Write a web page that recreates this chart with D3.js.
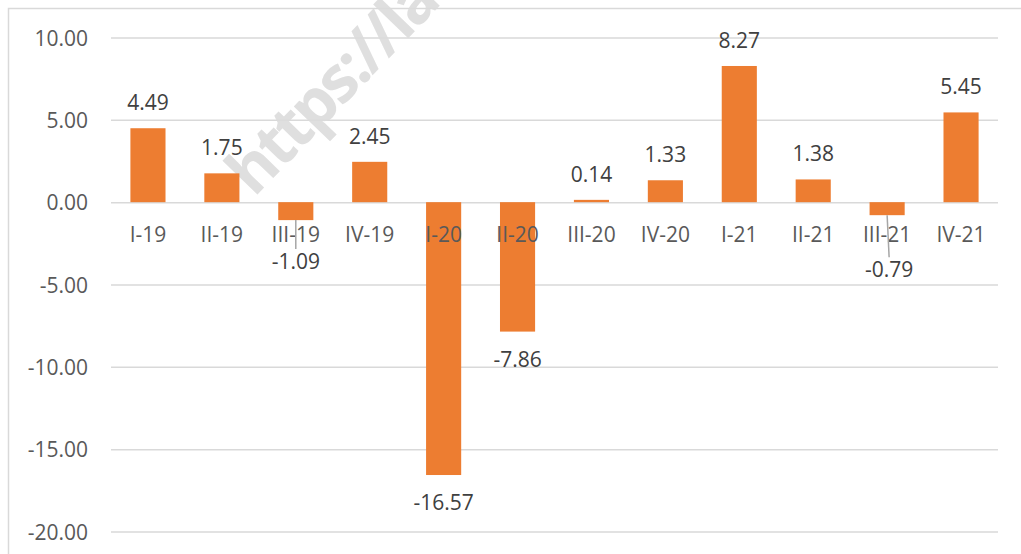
<!doctype html>
<html lang="en">
<head>
  <meta charset="utf-8">
  <title>Quarterly growth</title>
  <script src="https://cdnjs.cloudflare.com/ajax/libs/d3/7.8.5/d3.min.js"></script>
  <style>
    body { margin: 0; overflow: hidden; background: #fff; }
    text { font-family: "Open Sans", "Liberation Sans", sans-serif; fill: #595959; }
  </style>
</head>
<body>
  <script type="text/javascript">

    // chart data
    const quarters = ["I-19", "II-19", "III-19", "IV-19", "I-20", "II-20", "III-20", "IV-20", "I-21", "II-21", "III-21", "IV-21"];
    const growth = [4.49, 1.75, -1.09, 2.45, -16.57, -7.86, 0.14, 1.33, 8.27, 1.38, -0.79, 5.45];
    const yTicks = [10, 5, 0, -5, -10, -15, -20];

    // labels that were dragged off the bar in the original, with a leader line
    const movedLabels = { "III-19": { dy: 49, dx: 0 }, "III-21": { dy: 62, dx: 2 } };

    var config = {
      "width": 1021,
      "height": 554,
      "left": 111,
      "right": 998,
      "top": 37.5,
      "bottom": 531.5
    };

    // plain hyphen for negatives, like the original
    const fmt = d3.formatLocale({ decimal: ".", thousands: ",", grouping: [3], currency: ["", ""], minus: "-" }).format(".2f");

    let svg = d3.select("body").append("svg")
      .attr("width", config.width)
      .attr("height", config.height);

    // frame of the chart area
    svg.append("rect")
      .attr("x", 8.5).attr("y", 8.5)
      .attr("width", config.width + 20).attr("height", config.height + 20)
      .attr("fill", "none")
      .attr("stroke", "#d9d9d9")
      .attr("stroke-width", 1.5);

    let xScale = d3.scaleBand()
      .domain(quarters)
      .range([config.left, config.right])
      .paddingInner(0.525)
      .paddingOuter(0.2625);

    let yScale = d3.scaleLinear()
      .domain([10, -20])
      .range([config.top, config.bottom]);

    // gridlines + y labels
    let yAxis = svg.append("g")
      .call(d3.axisLeft(yScale)
        .tickValues(yTicks)
        .tickSize(config.left - config.right)
        .tickPadding(23)
        .tickFormat(fmt))
      .attr("transform", "translate(" + config.left + ",0)");
    yAxis.select(".domain").remove();
    yAxis.selectAll(".tick line")
      .attr("stroke", "#d9d9d9")
      .attr("stroke-width", 1.5)
      .attr("x1", 0).attr("x2", config.right - config.left);
    yAxis.selectAll(".tick text")
      .attr("dy", "7.5")
      .style("font-size", "21px")
      .style("font-family", "'Open Sans', sans-serif")
      .attr("fill", "#595959");

    // watermark
    svg.append("text")
      .attr("transform", "translate(254,198) rotate(-46)")
      .style("font-size", "64px")
      .style("font-weight", "bold")
      .style("letter-spacing", "-3px")
      .style("fill", "#dcdcdc")
      .style("opacity", 0.9)
      .text("https://la");

    // bars
    svg.selectAll(".bar")
      .data(quarters)
      .enter().append("rect")
      .attr("class", "bar")
      .attr("x", d => xScale(d))
      .attr("width", xScale.bandwidth())
      .attr("y", (d, i) => yScale(Math.max(0, growth[i])))
      .attr("height", (d, i) => Math.abs(yScale(growth[i]) - yScale(0)))
      .attr("fill", "#ed7d31");

    // category labels sit just under the zero line
    svg.selectAll(".cat")
      .data(quarters)
      .enter().append("text")
      .attr("class", "cat")
      .attr("x", d => xScale(d) + xScale.bandwidth() / 2)
      .attr("y", yScale(0) + 40)
      .attr("text-anchor", "middle")
      .style("font-size", "21px")
      .text(d => d);

    // leader lines for moved labels
    quarters.forEach((q, i) => {
      let m = movedLabels[q];
      if (!m) return;
      let cx = xScale(q) + xScale.bandwidth() / 2;
      let y0 = yScale(growth[i]);
      svg.append("line")
        .attr("x1", cx).attr("y1", y0)
        .attr("x2", cx + m.dx).attr("y2", y0 + m.dy - 20)
        .attr("stroke", "#a6a6a6")
        .attr("stroke-width", 1.5);
    });

    // value labels
    svg.selectAll(".val")
      .data(quarters)
      .enter().append("text")
      .attr("class", "val")
      .attr("x", d => xScale(d) + xScale.bandwidth() / 2 + (movedLabels[d] ? movedLabels[d].dx : 0))
      .attr("y", (d, i) => {
        let v = growth[i];
        if (movedLabels[d]) return yScale(v) + movedLabels[d].dy;
        return v >= 0 ? yScale(v) - 18 : yScale(v) + 35;
      })
      .attr("text-anchor", "middle")
      .style("font-size", "21px")
      .style("fill", "#404040")
      .text((d, i) => fmt(growth[i]));

  </script>
</body>
</html>
